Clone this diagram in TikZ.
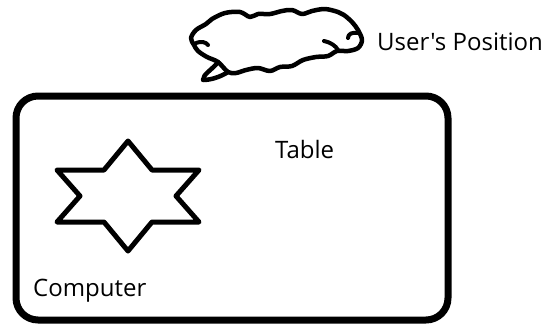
\documentclass[tikz,border=0pt]{standalone}
\usepackage{fontspec}
\setmainfont[Ligatures=TeXOff]{Open Sans}
\begin{document}
\begin{tikzpicture}[x=1pt,y=-1pt,
  lbl/.style={anchor=base west,inner sep=0pt,font=\fontsize{24}{28}\selectfont,text=black},
  ink/.style={draw=black,line join=round,line cap=round}]
\useasboundingbox (0,0) rectangle (543,325);
% table
\node[ink,line width=7pt,rounded corners=22pt,minimum width=432pt,minimum height=224pt,inner sep=0pt] (table) at (232,208) {};
% star (computer)
\draw[ink,line width=5pt] (128,141) -- (152,170) -- (199,170) -- (176,196) -- (199,222) -- (152,222) -- (128,251) -- (104,222) -- (57,222) -- (80,196) -- (57,170) -- (104,170) -- cycle;
% cloud (user)
\draw[ink,line width=4.5pt] plot[smooth cycle,tension=0.55] coordinates {(191,38) (196,30) (206,24) (212,19) (225,13) (240,12) (250,17) (258,14) (270,14) (282,11) (292,10) (302,14) (312,11) (325,9) (338,12) (344,15) (352,22) (358,30) (362,40) (358,48) (348,51) (337,51) (328,56) (316,57) (303,60) (292,66) (280,67) (270,71) (258,68) (246,70) (236,73) (228,72) (218,62) (207,57) (198,51) (194,45)};
\draw[ink,line width=4.5pt] (218,62) .. controls (212,70) and (203,74) .. (203,80) .. controls (212,80) and (222,76) .. (228,72);
\draw[ink,line width=4pt] (196,43) .. controls (201,41) and (206,42) .. (208,45);
\draw[ink,line width=4pt] (324,41) .. controls (330,42) and (336,46) .. (338,50);
\draw[ink,line width=4pt] (358,33) .. controls (352,32) and (348,34) .. (348,38);
% labels
\node[lbl] (tablelbl) at (275,158) {Table};
\node[lbl] (complbl) at (33,296) {Computer};
\node[lbl] (userlbl) at (377,50) {User's Position};
\end{tikzpicture}
\end{document}
